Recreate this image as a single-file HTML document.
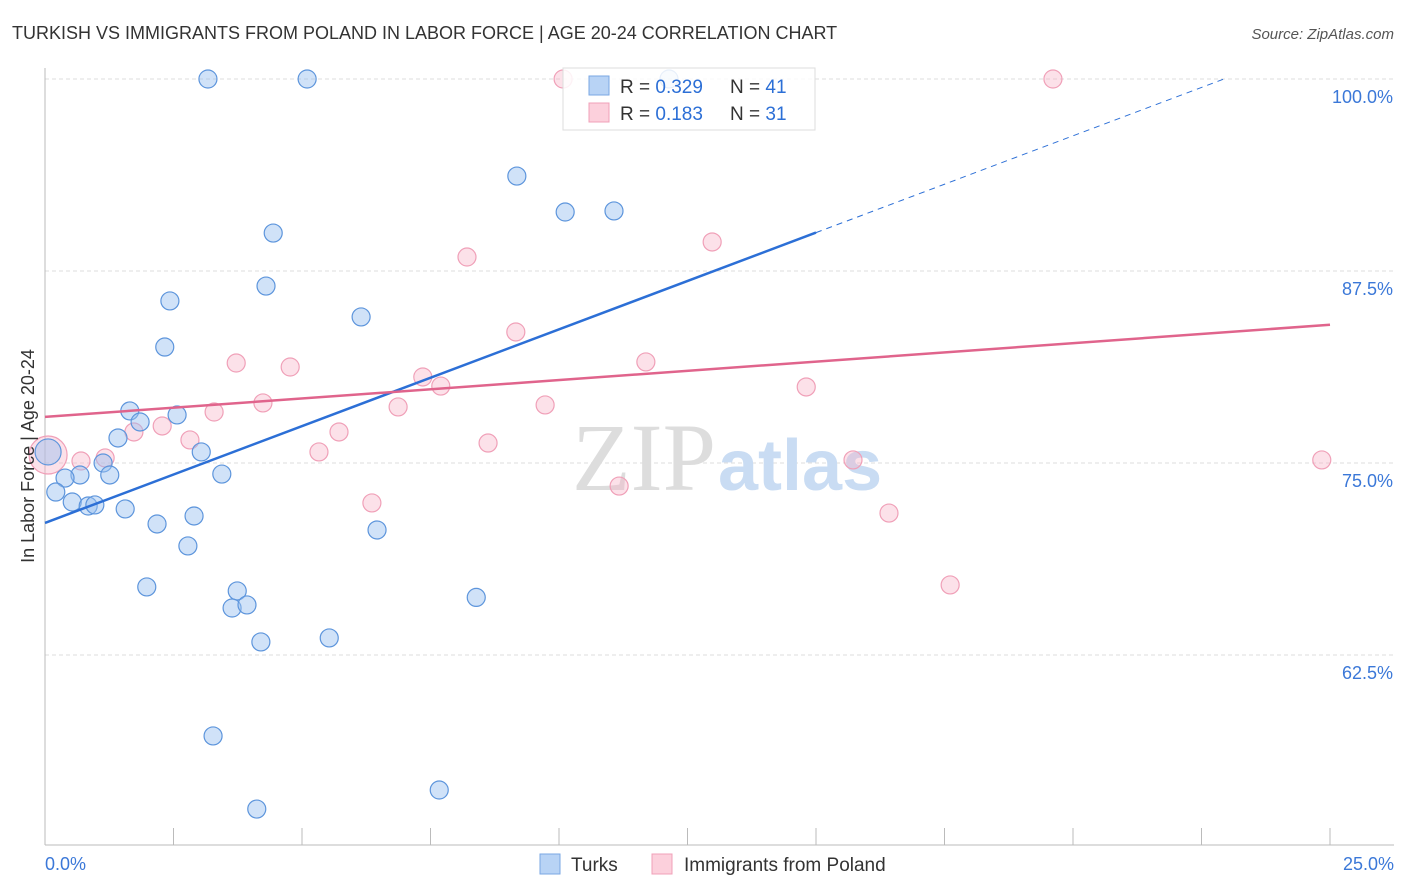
<!DOCTYPE html>
<html><head><meta charset="utf-8"><style>
body{margin:0;background:#fff;font-family:"Liberation Sans",sans-serif;}
svg{display:block}
</style></head><body>
<svg id="chart" width="1406" height="892">
<text x="12" y="39" font-size="18" fill="#333">TURKISH VS IMMIGRANTS FROM POLAND IN LABOR FORCE | AGE 20-24 CORRELATION CHART</text>
<text x="1394" y="39" font-size="15" fill="#555" font-style="italic" text-anchor="end">Source: ZipAtlas.com</text>
<g id="grid"></g>
<text x="716" y="490" font-size="96" fill="#ddd" text-anchor="end" font-family="Liberation Serif,serif">ZIP</text>
<text x="718" y="490" font-size="72" fill="#c9dcf3" font-weight="bold">atlas</text>
<g id="pts"></g>
<g id="lines"></g>
<text transform="translate(34,456) rotate(-90)" font-size="18" fill="#333" text-anchor="middle">In Labor Force | Age 20-24</text>
<g>
<rect x="563" y="68" width="252" height="62" fill="#fff" fill-opacity="0.85" stroke="#ddd"/>
<rect x="589" y="76" width="20" height="19" fill="#b8d3f5" stroke="#7aa7e3"/>
<rect x="589" y="103" width="20" height="19" fill="#fcd0dc" stroke="#f0a0b8"/>
<text x="620" y="93" font-size="19" fill="#333">R = <tspan fill="#2c6fd6">0.329</tspan></text>
<text x="730" y="93" font-size="19" fill="#333">N = <tspan fill="#2c6fd6">41</tspan></text>
<text x="620" y="120" font-size="19" fill="#333">R =  <tspan fill="#2c6fd6">0.183</tspan></text>
<text x="730" y="120" font-size="19" fill="#333">N = <tspan fill="#2c6fd6">31</tspan></text>
</g>
<g>
<rect x="540" y="854" width="20" height="20" fill="#b8d3f5" stroke="#7aa7e3"/>
<text x="571" y="871" font-size="19" fill="#333">Turks</text>
<rect x="652" y="854" width="20" height="20" fill="#fcd0dc" stroke="#f0a0b8"/>
<text x="684" y="871" font-size="19" fill="#333">Immigrants from Poland</text>
</g>
</svg>
<script>
const yTicks=[100,87.5,75,62.5];
const yTickLabels=["100.0%","87.5%","75.0%","62.5%"];
const xTickVals=[0,2.5,5,7.5,10,12.5,15,17.5,20,22.5,25];
const turksX=[3.17,5.10,12.14,9.18,10.12,11.07,4.44,4.30,2.43,6.15,2.33,1.65,1.85,2.57,1.42,3.04,1.13,1.26,3.44,0.68,0.39,0.21,0.53,0.84,0.97,1.56,2.18,2.90,2.78,6.46,1.98,3.74,8.39,3.64,3.93,4.20,5.53,3.27,7.67,4.12,0.06];
const turksY=[100,100,100,93.68,91.34,91.41,89.97,86.52,85.55,84.51,82.55,78.39,77.67,78.13,76.63,75.72,75.0,74.22,74.28,74.22,74.02,73.11,72.46,72.20,72.27,72.01,71.03,71.55,69.60,70.64,66.93,66.67,66.25,65.56,65.76,63.35,63.61,57.23,53.71,52.47,75.72];
const polandX=[10.08,19.61,12.98,8.21,9.16,3.72,4.77,11.69,7.35,7.70,14.81,4.24,6.87,9.73,3.29,2.28,1.73,5.72,2.82,8.62,5.33,1.17,0.70,15.72,24.84,6.36,11.17,16.42,17.61,0.06];
const polandY=[100,100,89.39,88.41,83.53,81.51,81.25,81.58,80.60,80.01,79.95,78.91,78.65,78.78,78.32,77.41,77.02,77.02,76.50,76.30,75.72,75.33,75.13,75.20,75.20,72.40,73.50,71.74,67.06,75.52];
const turksTrend=[71.1,1.26];
const polandTrend=[78.0,0.24];
const X=v=>45+v*51.4;
const Y=v=>463-(v-75)*15.36;
const NS="http://www.w3.org/2000/svg";
function mk(tag,attrs,parent){const e=document.createElementNS(NS,tag);for(const k in attrs)e.setAttribute(k,attrs[k]);document.getElementById(parent).appendChild(e);return e;}
yTicks.forEach((t,i)=>{
 const l=mk('line',{x1:45,x2:1394,y1:Y(t),y2:Y(t),stroke:'#ddd','stroke-dasharray':'4,3'},'grid');
 
 
 const tx=mk('text',{x:1393,y:Y(t)+24,'font-size':18,fill:'#3b78d8','text-anchor':'end'},'grid');
 tx.textContent=yTickLabels[i];
 
 
});
const ax=mk('line',{x1:45,x2:45,y1:68,y2:845,stroke:'#bbb'},'grid');


const bx=mk('line',{x1:45,x2:1394,y1:845,y2:845,stroke:'#bbb'},'grid');


xTickVals.forEach(t=>{
 const l=mk('line',{x1:X(t),x2:X(t),y1:828,y2:845,stroke:'#bbb'},'grid');
 
 
});
const xl0=mk('text',{x:45,y:870,'font-size':18,fill:'#3b78d8'},'grid');xl0.textContent='0.0%';


const xl1=mk('text',{x:1394,y:870,'font-size':18,fill:'#3b78d8','text-anchor':'end'},'grid');xl1.textContent='25.0%';


function dots(xs,ys,fill,stroke,name,bigR){
 xs.forEach((v,i)=>{
  const r=(i===xs.length-1)?bigR:9;
  const c=mk('circle',{cx:X(v),cy:Y(ys[i]),r:r,fill:fill,stroke:stroke,'stroke-width':1.2},'pts');
  
  
 });
}
dots(polandX,polandY,'rgba(248,180,200,0.4)','#f0a0b8','poland-point',19);
dots(turksX,turksY,'rgba(150,190,240,0.45)','#5d95dc','turks-point',13);
const tl=mk('line',{x1:X(0),y1:Y(turksTrend[0]),x2:X(15),y2:Y(turksTrend[0]+15*turksTrend[1]),stroke:'#2c6fd6','stroke-width':2.5},'lines');


const xe=(100-turksTrend[0])/turksTrend[1];
const td=mk('line',{x1:X(15),y1:Y(turksTrend[0]+15*turksTrend[1]),x2:X(xe),y2:Y(100),stroke:'#2c6fd6','stroke-width':1,'stroke-dasharray':'6,5'},'lines');


const pl=mk('line',{x1:X(0),y1:Y(polandTrend[0]),x2:X(25),y2:Y(polandTrend[0]+25*polandTrend[1]),stroke:'#e0648c','stroke-width':2.5},'lines');


</script>
</body></html>
